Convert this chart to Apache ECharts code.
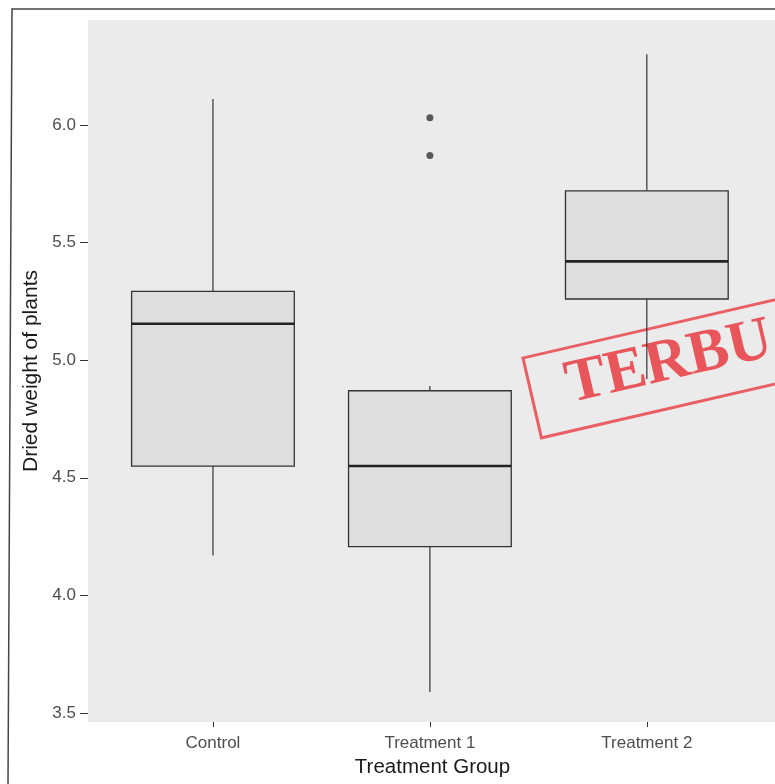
<!DOCTYPE html>
<html>
<head>
<meta charset="utf-8">
<script src="https://cdn.jsdelivr.net/npm/echarts@6/dist/echarts.min.js"></script>
<style>
html,body{margin:0;padding:0;background:#fff;}
#c{width:775px;height:784px;}
</style>
</head>
<body>
<div id="c"></div>
<script>
// ---- data ----
const categories = ['Control', 'Treatment 1', 'Treatment 2'];
const whiskerLow = [4.17, 3.59, 4.92];
const q1 = [4.55, 4.2075, 5.26];
const medians = [5.155, 4.55, 5.42];
const q3 = [5.2925, 4.87, 5.72];
const whiskerHigh = [6.11, 4.89, 6.30];
const outlierGroup = [2, 2];
const outlierValues = [5.87, 6.03];
const yTicks = [3.5, 4.0, 4.5, 5.0, 5.5, 6.0];
const xTicks = [1, 2, 3];

const boxData = categories.map((c, i) => [i + 1, whiskerLow[i], q1[i], medians[i], q3[i], whiskerHigh[i]]);
const outlierData = outlierGroup.map((g, i) => [g, outlierValues[i]]);

const chart = echarts.init(document.getElementById('c'), null, {renderer: 'canvas'});
const lineCol = '#333333';

function renderBox(params, api) {
  const x = api.value(0);
  const pMin = api.coord([x, api.value(1)]);
  const pQ1 = api.coord([x, api.value(2)]);
  const pMed = api.coord([x, api.value(3)]);
  const pQ3 = api.coord([x, api.value(4)]);
  const pMax = api.coord([x, api.value(5)]);
  const halfW = api.size([0.75, 0])[0] / 2;
  const cx = pMed[0];
  return {
    type: 'group',
    children: [
      {type: 'line', shape: {x1: cx, y1: pQ3[1], x2: cx, y2: pMax[1]}, style: {stroke: lineCol, lineWidth: 1.2}},
      {type: 'line', shape: {x1: cx, y1: pQ1[1], x2: cx, y2: pMin[1]}, style: {stroke: lineCol, lineWidth: 1.2}},
      {type: 'rect', shape: {x: cx - halfW, y: pQ3[1], width: 2 * halfW, height: pQ1[1] - pQ3[1]},
        style: {fill: '#dedede', stroke: lineCol, lineWidth: 1.3}},
      {type: 'line', shape: {x1: cx - halfW, y1: pMed[1], x2: cx + halfW, y2: pMed[1]}, style: {stroke: '#222', lineWidth: 2.6}}
    ]
  };
}

const option = {
  animation: false,
  backgroundColor: '#ffffff',
  grid: {left: 88, top: 20, width: 689, height: 702, show: true, backgroundColor: '#ebebeb', borderWidth: 0,
    containLabel: false, outerBoundsMode: 'none'},
  xAxis: {
    type: 'value', min: 0.424, max: 3.6,
    name: 'Treatment Group', nameLocation: 'middle', nameGap: 35,
    nameTextStyle: {fontFamily: 'Liberation Sans', fontSize: 20.5, color: '#1a1a1a'},
    axisLine: {show: false},
    splitLine: {show: false},
    axisTick: {show: true, customValues: xTicks, length: 5, lineStyle: {color: lineCol, width: 1}},
    axisLabel: {customValues: xTicks, margin: 13, fontFamily: 'Liberation Sans', fontSize: 17, color: '#4d4d4d',
      formatter: v => categories[Math.round(v) - 1] || ''}
  },
  yAxis: {
    type: 'value', min: 3.462, max: 6.446,
    name: 'Dried weight of plants', nameLocation: 'middle', nameGap: 45, nameRotate: 90,
    nameTextStyle: {fontFamily: 'Liberation Sans', fontSize: 21, color: '#1a1a1a'},
    axisLine: {show: false},
    splitLine: {show: false},
    axisTick: {show: true, customValues: yTicks, length: 8, lineStyle: {color: lineCol, width: 1}},
    axisLabel: {customValues: yTicks, margin: 12, fontFamily: 'Liberation Sans', fontSize: 17, color: '#4d4d4d',
      formatter: v => v.toFixed(1)}
  },
  series: [
    {type: 'custom', renderItem: renderBox, data: boxData, encode: {x: 0, y: [1, 2, 3, 4, 5]}, z: 2},
    {type: 'scatter', data: outlierData, symbolSize: 7, itemStyle: {color: '#333'}, z: 3}
  ],
  graphic: [
    {type: 'polyline', shape: {points: [[775, 9], [12, 9], [8, 784]]}, style: {stroke: '#444', lineWidth: 1.5, fill: null}, z: 10},
    {
      type: 'group', x: 523, y: 358, rotation: 0.227, z: 20,
      children: [
        {type: 'rect', shape: {x: 0, y: 0, width: 420, height: 82},
          style: {fill: null, stroke: 'rgba(232,60,66,0.8)', lineWidth: 3}},
        {type: 'text', x: 36, y: 38,
          style: {text: 'TERBU', font: 'bold 61px "Liberation Serif"', fill: 'rgba(232,60,66,0.85)', verticalAlign: 'middle', align: 'left'}}
      ]
    }
  ]
};
chart.setOption(option);
</script>
</body>
</html>
